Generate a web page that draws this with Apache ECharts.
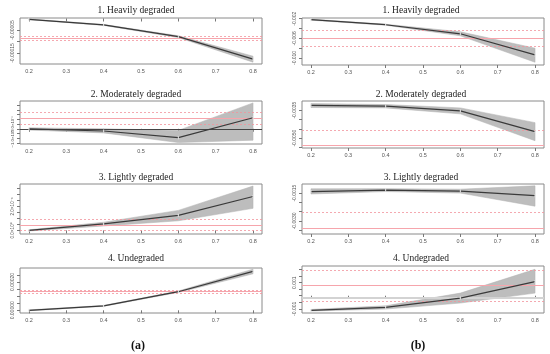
<!DOCTYPE html>
<html><head><meta charset="utf-8">
<script src="https://cdn.jsdelivr.net/npm/echarts@6/dist/echarts.min.js"></script>
<style>html,body{margin:0;padding:0;background:#fff}#c{width:550px;height:354px}</style>
</head><body><div id="c"></div>
<script>
// ---------- DATA ----------
const xValues = [0.2, 0.4, 0.6, 0.8];
const xTickValues = [0.2, 0.3, 0.4, 0.5, 0.6, 0.7, 0.8];
const panelTitles = ['1. Heavily degraded', '2. Moderately degraded', '3. Lightly degraded', '4. Undegraded'];
const columnLabels = ['(a)', '(b)'];

// (a) column
const a1Fit = [-0.0000035, -0.000028, -0.000079, -0.000177];
const a1Low = [-0.000005, -0.000030, -0.000083, -0.000190];
const a1High = [-0.000002, -0.000026, -0.000075, -0.000164];
const a1RedSolid = [-0.000086];
const a1RedDashed = [-0.000076, -0.000093];
const a1Range = [-0.000198, 0.0000022];
const a1Ticks = [-0.00005, -0.0001, -0.00015];
const a1Labels = [[-0.00005, '-0.00005'], [-0.00015, '-0.00015']];

const a2Fit = [0, -0.0000023, -0.0000093, 0.0000117];
const a2Low = [-0.0000013, -0.0000043, -0.0000145, -0.000012];
const a2High = [0.000001, 0, -0.0000017, 0.0000273];
const a2RedSolid = [0.000011];
const a2RedDashed = [0.0000177, 0.0000045];
const a2ZeroLine = [0];
const a2Range = [-0.000016, 0.0000293];
const a2Ticks = [-0.000015, -0.00001, -0.000005, 0, 0.000005, 0.00001, 0.000015, 0.00002, 0.000025];
const a2Labels = [[-0.00001, '−1.0×10⁻⁵'], [0.000005, '5.0×10⁻⁶']];

const a3Fit = [0, 0.0000054, 0.0000126, 0.0000283];
const a3Low = [-0.0000005, 0.0000037, 0.000008, 0.0000184];
const a3High = [0.0000005, 0.0000068, 0.0000167, 0.000037];
const a3RedSolid = [0.0000045];
const a3RedDashed = [0.0000089, 0.0000002];
const a3Range = [-0.000003, 0.0000387];
const a3Ticks = [0, 0.000005, 0.00001, 0.000015, 0.00002, 0.000025, 0.00003, 0.000035];
const a3Labels = [[0, '0.0×10⁰'], [0.00002, '2.0×10⁻⁵']];

const a4Fit = [0, 0.000031, 0.000131, 0.000274];
const a4Low = [-0.000003, 0.000028, 0.000126, 0.000257];
const a4High = [0.000003, 0.000034, 0.000136, 0.000290];
const a4RedSolid = [0.000131];
const a4RedDashed = [0.000141, 0.000121];
const a4Range = [-0.000019, 0.000298];
const a4Ticks = [0, 0.00005, 0.0001, 0.00015, 0.0002, 0.00025];
const a4Labels = [[0, '0.00000'], [0.0002, '0.00020']];

// (b) column
const b1Fit = [-0.0022, -0.00323, -0.00508, -0.00938];
const b1Low = [-0.0023, -0.00333, -0.00549, -0.01088];
const b1High = [-0.0021, -0.00313, -0.00467, -0.00801];
const b1RedSolid = [-0.00596];
const b1RedDashed = [-0.00426, -0.00768];
const b1Range = [-0.01144, -0.00186];
const b1Ticks = [-0.002, -0.004, -0.006, -0.008, -0.010];
const b1Labels = [[-0.002, '-0.002'], [-0.006, '-0.006'], [-0.010, '-0.010']];

const b2Fit = [-0.00324, -0.00329, -0.00354, -0.00465];
const b2Low = [-0.00336, -0.00338, -0.00370, -0.00514];
const b2High = [-0.00315, -0.00320, -0.00338, -0.00417];
const b2RedSolid = [-0.00539];
const b2RedDashed = [-0.00456];
const b2Range = [-0.00553, -0.00301];
const b2Ticks = [-0.0035, -0.004, -0.0045, -0.005, -0.0055];
const b2Labels = [[-0.0035, '-0.0035'], [-0.005, '-0.0050']];

const b3Fit = [-0.00142, -0.00134, -0.00139, -0.00164];
const b3Low = [-0.00155, -0.00142, -0.00150, -0.00221];
const b3High = [-0.00127, -0.00126, -0.00129, -0.00111];
const b3RedSolid = [-0.0034];
const b3RedDashed = [-0.00256];
const b3Range = [-0.00371, -0.00101];
const b3Ticks = [-0.0015, -0.002, -0.0025, -0.003, -0.0035];
const b3Labels = [[-0.0015, '-0.0015'], [-0.003, '-0.0030']];

const b4Fit = [-0.00112, -0.00089, -0.00018, 0.00108];
const b4Low = [-0.00117, -0.00102, -0.00056, 0.0002];
const b4High = [-0.00105, -0.00077, 0.0002, 0.00202];
const b4RedSolid = [0.00083];
const b4RedDashed = [0.00196, -0.00044];
const b4GreyLine = [-0.00018];
const b4Range = [-0.00132, 0.00227];
const b4Ticks = [-0.001, -0.0005, 0, 0.0005, 0.001, 0.0015, 0.002];
const b4Labels = [[-0.001, '-0.001'], [0.001, '0.001']];

// ---------- BUILD ----------
const panels = [
  {fit:a1Fit, low:a1Low, high:a1High, red:a1RedSolid, dash:a1RedDashed, range:a1Range, ticks:a1Ticks, labels:a1Labels, title:panelTitles[0]},
  {fit:a2Fit, low:a2Low, high:a2High, red:a2RedSolid, dash:a2RedDashed, dark:a2ZeroLine, range:a2Range, ticks:a2Ticks, labels:a2Labels, title:panelTitles[1]},
  {fit:a3Fit, low:a3Low, high:a3High, red:a3RedSolid, dash:a3RedDashed, range:a3Range, ticks:a3Ticks, labels:a3Labels, title:panelTitles[2]},
  {fit:a4Fit, low:a4Low, high:a4High, red:a4RedSolid, dash:a4RedDashed, range:a4Range, ticks:a4Ticks, labels:a4Labels, title:panelTitles[3]},
  {fit:b1Fit, low:b1Low, high:b1High, red:b1RedSolid, dash:b1RedDashed, range:b1Range, ticks:b1Ticks, labels:b1Labels, title:panelTitles[0]},
  {fit:b2Fit, low:b2Low, high:b2High, red:b2RedSolid, dash:b2RedDashed, range:b2Range, ticks:b2Ticks, labels:b2Labels, title:panelTitles[1]},
  {fit:b3Fit, low:b3Low, high:b3High, red:b3RedSolid, dash:b3RedDashed, range:b3Range, ticks:b3Ticks, labels:b3Labels, title:panelTitles[2]},
  {fit:b4Fit, low:b4Low, high:b4High, red:b4RedSolid, dash:b4RedDashed, grey:b4GreyLine, range:b4Range, ticks:b4Ticks, labels:b4Labels, title:panelTitles[3]}
];

// layout (pixels)
const colLeft = [20, 302];
const colWidth = 242;
const colTitleX = [136, 421];
const rowBoxes = [
  [[18, 64], [101, 144], [184, 234], [268, 313]],
  [[18, 65], [101, 148], [184, 234], [266, 313]]
];
const rowTitleY = [10, 94, 177, 258];
const yLabelFontSize = [5, 4.3, 4.6, 5, 5, 5, 5, 5];

const grids = [], xAxes = [], yAxes = [], series = [], graphics = [];
const tickFont = {fontFamily: 'Liberation Sans', fontSize: 5.5, color: '#555'};

panels.forEach((p, i) => {
  const col = i < 4 ? 0 : 1;
  const row = i % 4;
  const box = rowBoxes[col][row];
  grids.push({left: colLeft[col], width: colWidth, top: box[0], height: box[1] - box[0],
    show: true, borderColor: '#8a8a8a', borderWidth: 1, backgroundColor: 'transparent'});
  xAxes.push({type: 'value', gridIndex: i, min: 0.176, max: 0.824,
    axisLine: {show: false}, splitLine: {show: false},
    axisTick: {show: true, length: 3, customValues: xTickValues, lineStyle: {color: '#777'}},
    axisLabel: Object.assign({margin: 4, customValues: xTickValues, formatter: v => v.toFixed(1)}, tickFont)});

  // one y axis per label (the first also carries the ticks) so no label gets auto-hidden
  const mainY = yAxes.length;
  p.labels.forEach((lab, li) => {
    yAxes.push({type: 'value', gridIndex: i, position: 'left', offset: 0, min: p.range[0], max: p.range[1],
      axisLine: {show: false}, splitLine: {show: false},
      axisTick: {show: li === 0, length: 3, customValues: p.ticks, lineStyle: {color: '#777'}},
      axisLabel: Object.assign({rotate: 90, margin: 5, customValues: [lab[0]], formatter: () => lab[1]},
        tickFont, {fontSize: yLabelFontSize[i]})});
  });

  const xs = xValues, lo = p.low, hi = p.high;
  series.push({type: 'custom', xAxisIndex: i, yAxisIndex: mainY, silent: true, clip: true, z: 1,
    data: [[xs[0], lo[0]]],
    renderItem: (params, api) => {
      const pts = [];
      for (let k = 0; k < xs.length; k++) pts.push(api.coord([xs[k], hi[k]]));
      for (let k = xs.length - 1; k >= 0; k--) pts.push(api.coord([xs[k], lo[k]]));
      return {type: 'polygon', shape: {points: pts}, style: {fill: '#bdbdbd', stroke: '#b0b0b0', lineWidth: 0.5}};
    }});

  const mlData = [];
  p.red.forEach(v => mlData.push({yAxis: v, lineStyle: {color: '#f6a5ac', width: 1, type: 'solid'}}));
  p.dash.forEach(v => mlData.push({yAxis: v, lineStyle: {color: '#f2939c', width: 0.8, type: [2, 2]}}));
  if (p.dark) p.dark.forEach(v => mlData.push({yAxis: v, lineStyle: {color: '#444', width: 1, type: 'solid'}}));
  if (p.grey) p.grey.forEach(v => mlData.push({yAxis: v, lineStyle: {color: '#d3d3d3', width: 2, type: 'solid'}}));

  series.push({type: 'line', xAxisIndex: i, yAxisIndex: mainY, z: 3, silent: true,
    data: xs.map((x, k) => [x, p.fit[k]]),
    symbol: 'rect', symbolSize: [1, 3], itemStyle: {color: '#e8e8e8'},
    lineStyle: {color: '#3a3a3a', width: 1.2},
    markLine: {silent: true, precision: 12, symbol: ['none', 'none'], label: {show: false}, z: 2, data: mlData}});

  graphics.push({type: 'text', x: colTitleX[col], y: rowTitleY[row],
    style: {text: p.title, font: '9.5px "Liberation Serif"', fill: '#222', textAlign: 'center', textVerticalAlign: 'middle'}});
});

graphics.push({type: 'text', x: 138, y: 346, style: {text: columnLabels[0], font: 'bold 12px "Liberation Serif"', fill: '#111', textAlign: 'center', textVerticalAlign: 'middle'}});
graphics.push({type: 'text', x: 418, y: 346, style: {text: columnLabels[1], font: 'bold 12px "Liberation Serif"', fill: '#111', textAlign: 'center', textVerticalAlign: 'middle'}});

const chart = echarts.init(document.getElementById('c'), null, {renderer: 'canvas'});
chart.setOption({animation: false, backgroundColor: '#fff', grid: grids, xAxis: xAxes, yAxis: yAxes, series: series, graphic: graphics});
</script></body></html>
